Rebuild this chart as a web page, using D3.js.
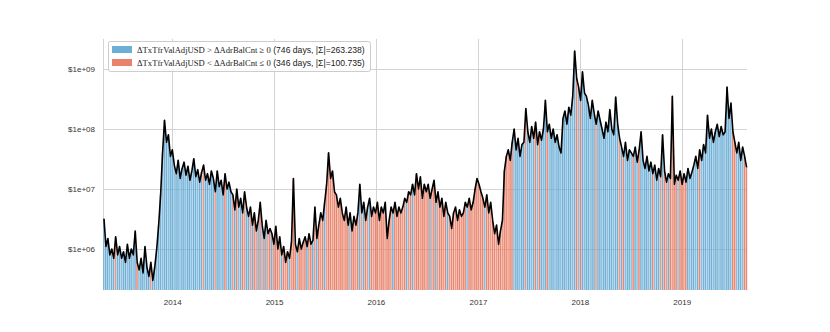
<!DOCTYPE html>
<head>
<meta charset="utf-8">
<style>
  body { margin:0; background:#fff; }
  .grid line { stroke:#d3d3d3; stroke-width:1; }
  .tick text { font-family:"Liberation Sans", Arial, sans-serif; font-size:8px; fill:#333; }
  .legend text { font-size:8.65px; fill:#222; }
</style>
</head>
<body>
<script src="https://d3js.org/d3.v7.min.js"></script>
<script>

var width = 830,
    height = 332;

// weekly samples starting 2013-04-28, value in millions of USD
var startDate = "2013-04-28";
var valuesM = [
  3.2, 1.1, 1.5, 0.8, 1.0, 0.7, 1.6, 0.8, 1.1, 0.7,
  0.9, 0.6, 1.2, 0.7, 1.0, 0.8, 2.0,
  0.6, 0.45, 0.7, 0.4, 1.1, 0.5, 0.35, 0.6, 0.3, 0.5,
  1.0, 2.5, 8,
  40, 140, 60, 80, 35, 45,
  25, 18, 30, 15, 22, 28, 17, 24, 14, 20, 32, 16, 21, 13, 19, 25, 14, 18, 12, 20,
  15, 9, 20, 11, 14, 8, 18, 10, 13, 9,
  8, 4.5, 10, 5, 7, 4, 9, 5,
  3.5, 5, 2.5, 4, 2, 3, 6,
  2.5, 1.5, 3, 1.8, 2.2,
  1.8, 1.2, 2.4, 1.0, 1.6,
  0.8, 1.1, 0.6, 0.9, 0.7,
  1.3, 15,
  1.2, 0.9, 1.5, 1.0, 1.3, 1.6,
  1.1, 1.8, 1.2, 1.4,
  5, 1.5,
  2.5, 4, 3, 6,
  12, 40,
  15, 20, 9,
  8, 5, 7, 4,
  3, 5, 2.5, 4, 2, 3.5, 2.5,
  4, 12,
  4, 6, 3, 5, 7, 3.5, 5, 4, 6, 3,
  5, 4, 6, 1.5, 3, 5, 4, 6, 3.5, 5, 4,
  5, 7, 6, 9, 8, 12,
  8, 18,
  10, 16, 7, 12, 9,
  12, 7, 10, 14, 6, 9,
  5, 7, 3.5, 6, 4,
  3.5, 2.2, 4, 5, 3, 4.5, 3.5,
  4, 6, 5, 7, 4.5, 6,
  10, 15, 12, 9,
  7, 5, 8, 4, 6,
  3, 1.8, 2.5, 1.2, 2,
  3, 20, 35,
  45, 30, 60, 100,
  45, 70, 35, 55, 60, 220,
  90, 60, 110, 70, 130, 55, 90, 65, 100,
  300,
  90, 120, 70, 100, 60, 80, 50, 40,
  150, 200, 120, 230, 170,
  350, 2000, 700,
  500, 300, 900, 400, 350,
  250, 150, 300, 180, 120, 200, 140,
  100, 70, 130, 90,
  210,
  100, 80,
  340,
  120, 70,
  50, 35, 60, 30, 45, 40,
  35, 50, 28, 45, 90,
  30, 22, 35, 20, 28,
  18, 25, 14, 22, 16, 80, 20, 13, 18,
  15, 350, 12, 17,
  14, 20, 12, 18, 13, 22, 15, 19,
  25, 35, 22, 45, 30, 55, 40,
  170, 70, 100, 60, 90, 120, 75, 110, 80,
  90,
  500, 150,
  270, 90, 60,
  40, 60, 30, 50, 35, 23
];

// b = ΔTxTfrValAdjUSD > ΔAdrBalCnt >= 0, r = ΔTxTfrValAdjUSD < ΔAdrBalCnt <= 0
var signs =
  "bbbbbbrbbb" + "bbbbbbbrbb" + "bbbbrbbbbb" + "bbbbbbbbbb" + "bbbbbbbbbb" +
  "brbbbbbrbb" + "bbrbbbrbrb" + "brrbbrbrrb" + "rbrbrrbrrr" + "rbrrrbrrrb" +
  "rrrrbrrbrb" + "rrrbrrrrrr" + "rrrrrrbrrr" + "rbrbrrbrrr" + "rrrrrrrrbr" +
  "rrrrrbrrbr" + "rrrrrrrbrr" + "brrrrrbrrr" + "rrrrrrbrrr" + "rrrrrbrrrr" +
  "rrrrrrrrrr" + "bbbbbbrbbb" + "brbrbbbrbb" + "bbbbbbbbbb" + "bbrbrbbbbb" +
  "bbrbbbbbbb" + "bbbbrbrbbb" + "brbbrbbbbb" + "brbbbrbrrb" + "rrrrbrrrrb" +
  "bbbbbrbbbb" + "bbbbbbbbbb" + "bbrrbbbbrr";

var yTicks = [1e6, 1e7, 1e8, 1e9];
var legendLabels = [
  { math: "ΔTxTfrValAdjUSD > ΔAdrBalCnt ≥ 0", text: " (746 days, |Σ|=263.238)", key: "b" },
  { math: "ΔTxTfrValAdjUSD < ΔAdrBalCnt ≤ 0", text: " (346 days, |Σ|=100.735)", key: "r" }
];

var colors = { b: "#6baed6", r: "#e8826a" };

var parse = d3.timeParse("%Y-%m-%d");
var t0 = parse(startDate);
var data = valuesM.map(function(v, i) {
  return { date: d3.timeDay.offset(t0, 7 * i), value: v * 1e6, sign: signs[i] };
});

var plotLeft = 103, plotRight = 747, plotTop = 39, plotBottom = 290;

var x = d3.scaleTime()
    .domain([t0, parse("2019-08-23")])
    .range([plotLeft, plotRight]);

var y = d3.scaleLog()
    .domain([Math.pow(10, 5.317), Math.pow(10, 9.5)])
    .range([plotBottom, plotTop]);

var svg = d3.select("body").append("svg")
    .attr("width", width)
    .attr("height", height);

// grid
var grid = svg.append("g").attr("class", "grid");
grid.selectAll(".hg")
    .data(yTicks).enter()
    .append("line")
    .attr("x1", plotLeft).attr("x2", plotRight)
    .attr("y1", function(d) { return Math.round(y(d)) + 0.5; })
    .attr("y2", function(d) { return Math.round(y(d)) + 0.5; });
grid.selectAll(".vg")
    .data(x.ticks(d3.timeYear.every(1))).enter()
    .append("line")
    .attr("y1", plotTop).attr("y2", plotBottom)
    .attr("x1", function(d) { return Math.round(x(d)) + 0.5; })
    .attr("x2", function(d) { return Math.round(x(d)) + 0.5; });
grid.append("line")
    .attr("x1", plotLeft + 0.5).attr("x2", plotLeft + 0.5)
    .attr("y1", plotTop).attr("y2", plotBottom);

// bars
var step = x(d3.timeDay.offset(t0, 7)) - x(t0);
svg.append("g").selectAll("rect")
    .data(data).enter()
    .append("rect")
    .attr("x", function(d) { return x(d.date); })
    .attr("width", step * 0.8)
    .attr("y", function(d) { return y(d.value); })
    .attr("height", function(d) { return plotBottom - y(d.value); })
    .style("fill", function(d) { return colors[d.sign]; })
    .style("opacity", function(d, i) { return i % 3 == 0 ? 0.8 : 0.95; });

// line
var line = d3.line()
    .x(function(d) { return x(d.date) + step / 2; })
    .y(function(d) { return y(d.value); });

svg.append("path")
    .datum(data)
    .attr("d", line)
    .style("fill", "none")
    .style("stroke", "#000")
    .style("stroke-width", 1.6)
    .style("stroke-linejoin", "round");

// axes
var yAxis = d3.axisLeft(y)
    .tickValues(yTicks)
    .tickSize(0)
    .tickPadding(8)
    .tickFormat(function(d) { return "$1e+0" + Math.round(Math.log10(d)); });
svg.append("g")
    .attr("transform", "translate(" + plotLeft + ",0)")
    .call(yAxis)
    .call(function(g) { g.select(".domain").remove(); });

var xAxis = d3.axisBottom(x)
    .ticks(d3.timeYear.every(1))
    .tickSize(0)
    .tickPadding(9)
    .tickFormat(d3.timeFormat("%Y"));
svg.append("g")
    .attr("transform", "translate(0," + plotBottom + ")")
    .call(xAxis)
    .call(function(g) { g.select(".domain").remove(); });

// legend
var legend = svg.append("g").attr("class", "legend");
legend.append("rect")
    .attr("x", 108.5).attr("y", 41.5)
    .attr("width", 262).attr("height", 30)
    .attr("rx", 2)
    .style("fill", "#fff").style("fill-opacity", 0.85)
    .style("stroke", "#ccc");

legendLabels.forEach(function(l, i) {
  var yy = 46 + i * 13;
  legend.append("rect")
    .attr("x", 112).attr("y", yy)
    .attr("width", 20).attr("height", 7)
    .style("fill", colors[l.key]);
  var t = legend.append("text")
    .attr("x", 137).attr("y", yy + 7);
  t.append("tspan")
    .style("font-family", "'Liberation Serif', 'Times New Roman', serif")
    .text(l.math);
  t.append("tspan")
    .style("font-family", "'Liberation Sans', Arial, sans-serif")
    .text(l.text);
});

</script>
</body>
